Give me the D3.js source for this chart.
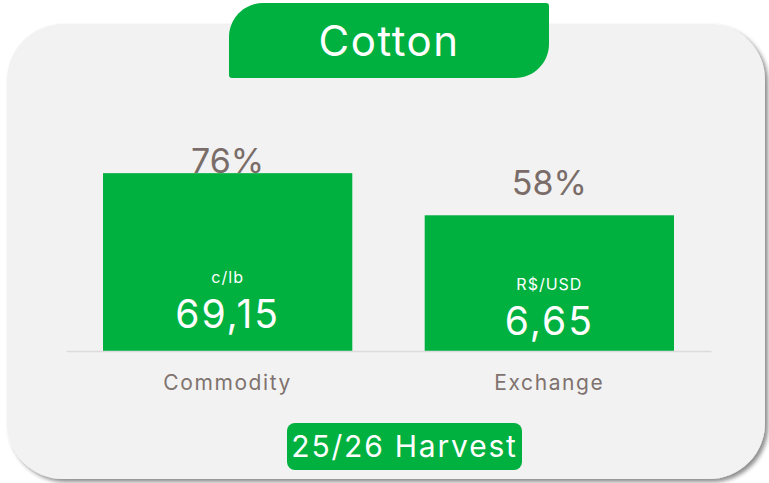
<!DOCTYPE html>
<html>
<head>
<meta charset="utf-8">
<script src="https://cdn.jsdelivr.net/npm/d3@7"></script>
<style>
  html, body { margin: 0; padding: 0; background: #ffffff; }
  svg { display: block; font-family: "Inter", "Lato", sans-serif; }
</style>
</head>
<body>
<svg id="chart" width="769" height="483"></svg>
<script>
// Cotton hedge summary: share hedged per risk and the locked-in level
const title = "Cotton";
const footer = "25/26 Harvest";
const categories = ["Commodity", "Exchange"];
const hedgedPct = [76, 58];
const units = ["c/lb", "R$/USD"];
const levels = [69.15, 6.65];

const green = "#00b140";
const labelGrey = "#7a6d69";
const fmtLevel = v => d3.format(".2f")(v).replace(".", ",");

const svg = d3.select("#chart");

// drop shadow for the card
const defs = svg.append("defs");
const f = defs.append("filter").attr("id", "shadow")
  .attr("x", "-5%").attr("y", "-5%").attr("width", "112%").attr("height", "112%");
f.append("feDropShadow").attr("dx", 3).attr("dy", 3).attr("stdDeviation", 2)
  .attr("flood-color", "#000").attr("flood-opacity", 0.45);

// card background
svg.append("rect")
  .attr("x", 7).attr("y", 24).attr("width", 758).attr("height", 455)
  .attr("rx", 56).attr("ry", 56)
  .attr("fill", "#f2f2f2")
  .attr("filter", "url(#shadow)");

// title tab: large rounded top-left and bottom-right corners
const tx0 = 229, tx1 = 549, ty0 = 3, ty1 = 78, r = 34, s = 3;
const tab = d3.path();
tab.moveTo(tx0 + r, ty0);
tab.lineTo(tx1 - s, ty0);
tab.quadraticCurveTo(tx1, ty0, tx1, ty0 + s);
tab.lineTo(tx1, ty1 - r);
tab.bezierCurveTo(tx1, ty1 - r * 0.45, tx1 - r * 0.45, ty1, tx1 - r, ty1);
tab.lineTo(tx0 + s, ty1);
tab.quadraticCurveTo(tx0, ty1, tx0, ty1 - s);
tab.lineTo(tx0, ty0 + r);
tab.bezierCurveTo(tx0, ty0 + r * 0.45, tx0 + r * 0.45, ty0, tx0 + r, ty0);
tab.closePath();
svg.append("path").attr("d", tab.toString()).attr("fill", green);
svg.append("text")
  .attr("x", (tx0 + tx1) / 2).attr("y", 56)
  .attr("text-anchor", "middle")
  .attr("fill", "#ffffff")
  .attr("font-size", 42)
  .attr("letter-spacing", 1.5)
  .text(title);

// scales
const x = d3.scaleBand().domain(categories).range([66, 711])
  .paddingInner(0.225).paddingOuter(0.115);
const y = d3.scaleLinear().domain([0, 100]).range([351, 117]);
const plotTop = 147;

const data = categories.map((c, i) => ({
  cat: c, pct: hedgedPct[i], unit: units[i], level: levels[i]
}));

// bars
svg.append("g").selectAll("rect").data(data).join("rect")
  .attr("x", d => x(d.cat))
  .attr("y", d => y(d.pct))
  .attr("width", x.bandwidth())
  .attr("height", d => y(0) - y(d.pct))
  .attr("fill", green);

// baseline and category labels
const axis = svg.append("g").attr("transform", `translate(0,${y(0)})`)
  .call(d3.axisBottom(x).tickSize(0).tickPadding(24));
axis.select(".domain").attr("stroke", "#dcdcdc").attr("stroke-width", 1.5);
axis.selectAll(".tick text")
  .attr("font-size", 21)
  .attr("letter-spacing", 1.6)
  .attr("font-family", "Inter, Lato, sans-serif")
  .attr("fill", "#7f726e");

// percentage labels above bars, kept inside the plot area
svg.append("g").selectAll("text").data(data).join("text")
  .attr("x", d => x(d.cat) + x.bandwidth() / 2)
  .attr("y", d => Math.max(y(d.pct) - 20, plotTop + 26))
  .attr("text-anchor", "middle")
  .attr("fill", labelGrey)
  .attr("font-size", 34)
  .text(d => d.pct + "%");

// unit and level inside each bar
const inner = svg.append("g").selectAll("g").data(data).join("g")
  .attr("transform", d => {
    const h = y(0) - y(d.pct);
    return `translate(${x(d.cat) + x.bandwidth() / 2},${y(0) - 25 - 0.15 * h})`;
  });
inner.append("text")
  .attr("y", -16)
  .attr("text-anchor", "middle")
  .attr("fill", "#ffffff")
  .attr("font-size", 16)
  .attr("letter-spacing", 1)
  .text(d => d.unit);
inner.append("text")
  .attr("y", 29)
  .attr("text-anchor", "middle")
  .attr("fill", "#ffffff")
  .attr("font-size", 39)
  .attr("letter-spacing", 2)
  .text(d => fmtLevel(d.level));

// harvest badge
svg.append("rect")
  .attr("x", 287).attr("y", 423).attr("width", 235).attr("height", 47)
  .attr("rx", 8).attr("fill", green);
svg.append("text")
  .attr("x", 404.5).attr("y", 457)
  .attr("text-anchor", "middle")
  .attr("fill", "#ffffff")
  .attr("font-size", 30)
  .attr("letter-spacing", 1.8)
  .text(footer);
</script>
</body>
</html>
